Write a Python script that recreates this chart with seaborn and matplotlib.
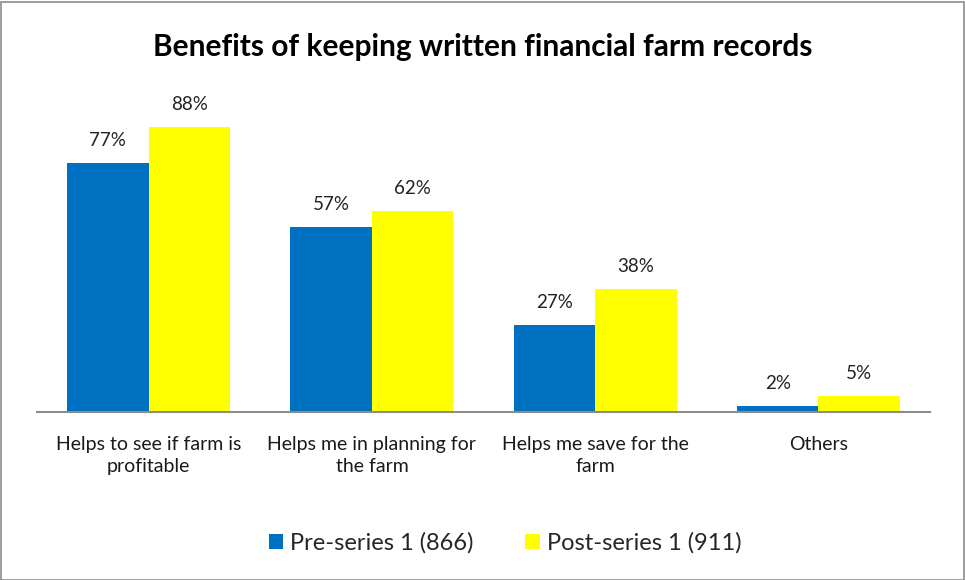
import matplotlib
matplotlib.use("Agg")
import matplotlib.pyplot as plt
import seaborn as sns
import pandas as pd
from matplotlib.patches import Rectangle

categories = ["Helps to see if farm is\nprofitable",
              "Helps me in planning for\nthe farm",
              "Helps me save for the\nfarm",
              "Others"]
series_names = ["Pre-series 1 (866)", "Post-series 1 (911)"]
pre_values = [77, 57, 27, 2]
post_values = [88, 62, 38, 5]
colors = ["#0070C0", "#FFFF00"]

df = pd.DataFrame({
    "category": categories * 2,
    "series": [series_names[0]] * 4 + [series_names[1]] * 4,
    "value": pre_values + post_values,
})

sns.set_theme(style="white")
plt.rcParams["font.family"] = ["Lato", "DejaVu Sans"]

fig = plt.figure(figsize=(9.65, 5.8), dpi=100)
ax = fig.add_axes([37 / 965, 168 / 580, 893 / 965, 324 / 580])

sns.barplot(data=df, x="category", y="value", hue="series",
            palette=colors, width=0.73, saturation=1, ax=ax,
            errorbar=None, edgecolor="none", linewidth=0)

for container in ax.containers:
    ax.bar_label(container, labels=[f"{v:.0f}%" for v in container.datavalues],
                 padding=10, fontsize=13.5, color="#222222")

ax.set_ylim(0, 100)
ax.set_xlim(-0.5, 3.5)
ax.set_yticks([])
ax.set_xlabel("")
ax.set_ylabel("")
for side in ["top", "right", "left"]:
    ax.spines[side].set_visible(False)
ax.spines["bottom"].set_color("#8c8c8c")
ax.spines["bottom"].set_linewidth(1.5)
ax.tick_params(axis="x", length=0, pad=17, labelsize=14, labelcolor="#1a1a1a")
for lbl in ax.get_xticklabels():
    lbl.set_linespacing(1.35)

fig.text(0.5, 1 - 47 / 580, "Benefits of keeping written financial farm records",
         ha="center", va="center", fontsize=21.5, fontweight="bold", color="black")

handles, labels = ax.get_legend_handles_labels()
ax.get_legend().remove()
fig.legend(handles, labels, loc="center", bbox_to_anchor=(505 / 965, 1 - 543 / 580),
           ncol=2, frameon=False, fontsize=17, handlelength=0.6, handleheight=0.6,
           handletextpad=0.3, columnspacing=2.2)

fig.patches.append(Rectangle((0.5 / 965, 0.5 / 580), 963.5 / 965, 578 / 580,
                             transform=fig.transFigure, fill=False,
                             edgecolor="#8c8c8c", linewidth=1.2))

fig.savefig("out.png", dpi=100)
